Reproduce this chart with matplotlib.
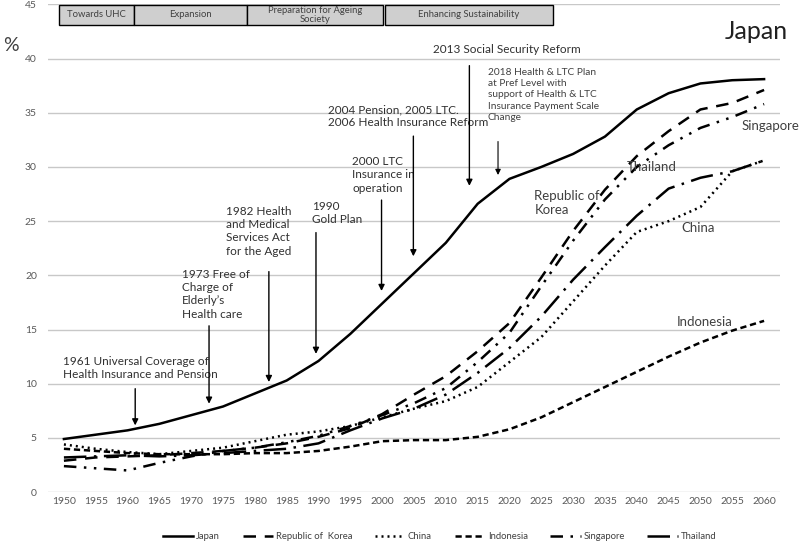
import matplotlib
matplotlib.use("Agg")
import matplotlib.pyplot as plt
from matplotlib.patches import Rectangle

plt.rcParams['font.family'] = ['Lato', 'DejaVu Sans']

# ---- data (share of population aged 65+, %) ----
years = list(range(1950, 2061, 5))

japan = [4.9, 5.3, 5.7, 6.3, 7.1, 7.9, 9.1, 10.3, 12.1, 14.6, 17.4, 20.2,
         23.0, 26.6, 28.9, 30.0, 31.2, 32.8, 35.3, 36.8, 37.7, 38.0, 38.1]
korea = [2.9, 3.2, 3.3, 3.4, 3.6, 3.8, 4.1, 4.5, 5.1, 5.9, 7.2, 9.0,
         10.7, 13.0, 15.6, 19.8, 24.1, 27.9, 31.0, 33.3, 35.3, 35.9, 37.1]
china = [4.4, 4.0, 3.7, 3.5, 3.8, 4.1, 4.7, 5.3, 5.6, 6.1, 6.9, 7.7,
         8.4, 9.7, 12.0, 14.3, 17.6, 20.9, 24.0, 25.0, 26.3, 29.6, 30.6]
indonesia = [4.0, 3.8, 3.6, 3.5, 3.5, 3.5, 3.6, 3.6, 3.8, 4.2, 4.7, 4.8,
             4.8, 5.1, 5.8, 6.9, 8.3, 9.7, 11.1, 12.5, 13.8, 14.9, 15.8]
singapore = [2.4, 2.2, 2.0, 2.7, 3.3, 3.8, 4.1, 4.6, 5.2, 6.1, 7.1, 8.2,
             9.6, 12.0, 14.7, 19.0, 23.2, 27.0, 30.0, 32.0, 33.6, 34.6, 35.8]
thailand = [3.2, 3.3, 3.4, 3.3, 3.4, 3.6, 3.8, 4.0, 4.5, 5.7, 6.8, 7.7,
            9.0, 11.0, 13.3, 16.2, 19.6, 22.6, 25.5, 28.0, 29.0, 29.6, 30.6]

series = ['Japan', 'Republic of  Korea', 'China', 'Indonesia', 'Singapore', 'Thailand']

phases = ['Towards UHC', 'Expansion', 'Preparation for Ageing\nSociety', 'Enhancing Sustainability']
phase_bounds = [(1949.2, 1961.0), (1961.0, 1978.8), (1978.8, 2000.1), (2000.4, 2026.8)]

# (text, text x, text y, arrow x, arrow top, arrow bottom)
events = [
    ('1961 Universal Coverage of\nHealth Insurance and Pension', 1949.8, 12.6, 1961.2, 9.8, 5.9),
    ('1973 Free of\nCharge of\nElderly\u2019s\nHealth care', 1968.6, 20.6, 1972.8, 15.6, 7.9),
    ('1982 Health\nand Medical\nServices Act\nfor the Aged', 1975.5, 26.4, 1982.2, 20.6, 9.9),
    ('1990\nGold Plan', 1989.0, 26.9, 1989.6, 24.2, 12.5),
    ('2000 LTC\nInsurance in\noperation', 1995.3, 31.0, 1999.9, 27.2, 18.3),
    ('2004 Pension, 2005 LTC.\n2006 Health Insurance Reform', 1991.5, 35.8, 2004.9, 33.1, 21.5),
    ('2013 Social Security Reform', 2008.0, 41.3, 2013.7, 39.6, 28.0),
]

fig = plt.figure(figsize=(8, 5.42), dpi=100)
ax = fig.add_axes([0.06, 0.092, 0.915, 0.9])

ax.plot(years, japan, color='black', lw=1.8, label=series[0])
ax.plot(years, korea, color='black', lw=1.8, ls=(0, (5, 3.5)), label=series[1])
ax.plot(years, china, color='black', lw=1.8, ls=(0, (0.8, 1.6)), label=series[2])
ax.plot(years, indonesia, color='black', lw=1.8, ls=(0, (2.5, 1.5)), label=series[3])
ax.plot(years, singapore, color='black', lw=1.8, ls=(0, (5, 3, 1, 3, 1, 3)), label=series[4])
ax.plot(years, thailand, color='black', lw=1.8, ls=(0, (9, 3, 1, 3)), label=series[5])

ax.set_xlim(1947.5, 2062.5)
ax.set_ylim(0, 45)
ax.set_xticks(years)
ax.set_yticks(range(0, 46, 5))
ax.tick_params(length=0, labelsize=7.5, labelcolor='#595959')
ax.tick_params(axis='y', pad=8)
ax.grid(axis='y', color='#c8c8c8', lw=1)
ax.set_axisbelow(True)
for s in ax.spines.values():
    s.set_visible(False)

fig.text(0.004, 0.905, '%', fontsize=14, color='#404040')

# phase banner
for name, (x0, x1) in zip(phases, phase_bounds):
    ax.add_patch(Rectangle((x0, 43.1), x1 - x0, 1.85, facecolor='#cfcfcf',
                           edgecolor='black', lw=1, clip_on=False, zorder=3))
    ax.text((x0 + x1) / 2, 44.02, name, ha='center', va='center', fontsize=6.8,
            color='#404040', linespacing=1.1, zorder=4)

# policy events with arrows
for txt, tx, ty, axx, y0, y1 in events:
    ax.text(tx, ty, txt, ha='left', va='top', fontsize=8.5, color='#303030', linespacing=1.25)
    ax.annotate('', xy=(axx, y1), xytext=(axx, y0),
                arrowprops=dict(arrowstyle='-|>', color='black', lw=1, mutation_scale=9))

ax.text(2016.6, 39.1, '2018 Health & LTC Plan\nat Pref Level with\nsupport of Health & LTC\n'
        'Insurance Payment Scale\nChange', ha='left', va='top', fontsize=7.3,
        color='#404040', linespacing=1.3)
ax.annotate('', xy=(2018.2, 29.0), xytext=(2018.2, 32.6),
            arrowprops=dict(arrowstyle='-|>', color='black', lw=0.8, mutation_scale=8))

# series labels
ax.text(2053.8, 42.5, 'Japan', fontsize=18, color='#202020', va='center')
ax.text(2056.5, 33.4, 'Singapore', fontsize=9.5, color='#404040')
ax.text(2038.5, 29.6, 'Thailand', fontsize=9.5, color='#404040')
ax.text(2023.9, 27.9, 'Republic of\nKorea', fontsize=9.5, color='#404040', va='top',
        linespacing=1.25)
ax.text(2047.0, 24.0, 'China', fontsize=9.5, color='#404040')
ax.text(2046.3, 15.3, 'Indonesia', fontsize=9.5, color='#404040')

ax.legend(loc='lower center', bbox_to_anchor=(0.535, -0.118), ncol=6, frameon=False,
          fontsize=6.8, handlelength=3.2, columnspacing=2.4, handletextpad=0.3,
          labelcolor='#404040')

fig.savefig('out.png', dpi=100)
